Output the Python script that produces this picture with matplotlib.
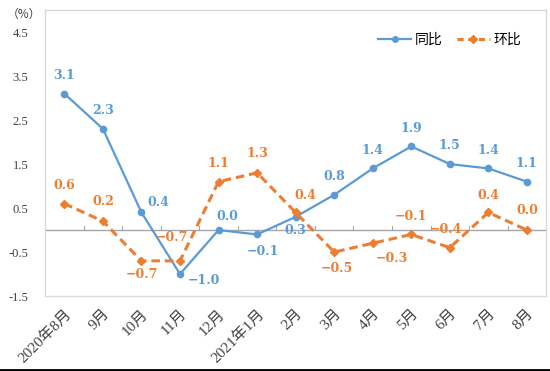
import numpy as np
import matplotlib.pyplot as plt
from matplotlib.lines import Line2D

# chart data
months = ['2020年8月', '9月', '10月', '11月', '12月', '2021年1月', '2月',
          '3月', '4月', '5月', '6月', '7月', '8月']
yoy = [3.1, 2.3, 0.4, -1.0, 0.0, -0.1, 0.3, 0.8, 1.4, 1.9, 1.5, 1.4, 1.1]
mom = [0.6, 0.2, -0.7, -0.7, 1.1, 1.3, 0.4, -0.5, -0.3, -0.1, -0.4, 0.4, 0.0]
yticks = [-1.5, -0.5, 0.5, 1.5, 2.5, 3.5, 4.5]

BLUE = '#5B9BD5'
ORANGE = '#ED7D31'
SERIF = ['Liberation Serif', 'Noto Sans CJK SC']
LBL = ['DejaVu Serif']

# label offsets in points (dx, dy)
yoy_off = [(0, 13), (0, 13), (12, 7), (17, -5), (6, 10), (4, -12), (0, -10),
           (0, 13), (0, 13), (0, 13), (0, 13), (0, 13), (0, 13)]
mom_off = [(0, 13), (0, 14), (0, -10), (-6, 17), (0, 13), (0, 14), (7, 12),
           (2, -12), (14, -11), (0, 13), (-3, 13), (0, 12), (0, 14)]

fig = plt.figure(figsize=(5.5, 3.71), dpi=100)
ax = fig.add_axes([0.082, 0.202, 0.911, 0.771])

x = np.arange(len(months))
ax.plot(x, yoy, color=BLUE, lw=1.6, marker='o', ms=4.5, label='同比', zorder=3)
ax.plot(x, mom, color=ORANGE, lw=2.2, ls=(0, (2.8, 1.6)), marker='D', ms=4.5,
        label='环比', zorder=3)

# zero line with small category ticks
ax.axhline(0, color='#A6A6A6', lw=1, zorder=1)
for b in x[:-1] + 0.5:
    ax.plot([b, b], [0, 0.1], color='#A6A6A6', lw=0.8, zorder=1)


def fmt(v):
    s = f'{abs(v):.1f}'
    return ('\u2212' + s) if v < 0 else s


for i in range(len(months)):
    ax.annotate(fmt(yoy[i]), (x[i], yoy[i]), xytext=yoy_off[i], textcoords='offset points',
                ha='center', va='center', color=BLUE, fontsize=9, fontweight='bold',
                family=LBL)
    ax.annotate(fmt(mom[i]), (x[i], mom[i]), xytext=mom_off[i], textcoords='offset points',
                ha='center', va='center', color=ORANGE, fontsize=9, fontweight='bold',
                family=LBL)

ax.set_xlim(-0.5, len(months) - 0.5)
ax.set_ylim(-1.5, 5.0)
ax.set_yticks(yticks)
ax.set_yticklabels([f'{v:.1f}' for v in yticks], family=SERIF, fontsize=9, color='#404040')
ax.set_xticks(x)
ax.set_xticklabels(months, rotation=45, ha='right', rotation_mode='anchor',
                   family=SERIF, fontsize=11, color='#404040')
ax.tick_params(axis='both', length=0)
ax.tick_params(axis='y', pad=12)
ax.tick_params(axis='x', pad=8)
for s in ax.spines.values():
    s.set_color('#D9D9D9')
    s.set_linewidth(1)

fig.text(0.043, 0.962, '（%）', family=['Noto Sans CJK SC'], fontsize=8.5, color='#404040',
         ha='center', va='center')

handles = [Line2D([], [], color=BLUE, lw=1.6, marker='o', ms=4),
           Line2D([], [], color=ORANGE, lw=2.2, ls=(0, (2, 1.5)), marker='D', ms=4)]
leg = ax.legend(handles, ['同比', '环比'], loc='upper right', ncol=2, frameon=False,
                bbox_to_anchor=(0.975, 0.965), handlelength=2.4, columnspacing=1.0,
                handletextpad=0.25, prop={'family': 'Noto Sans CJK SC', 'size': 10})

# dark bottom border of the picture
fig.add_artist(Line2D([0, 1], [0.004, 0.004], color='black', lw=2, transform=fig.transFigure))

fig.savefig('out.png', dpi=100)
